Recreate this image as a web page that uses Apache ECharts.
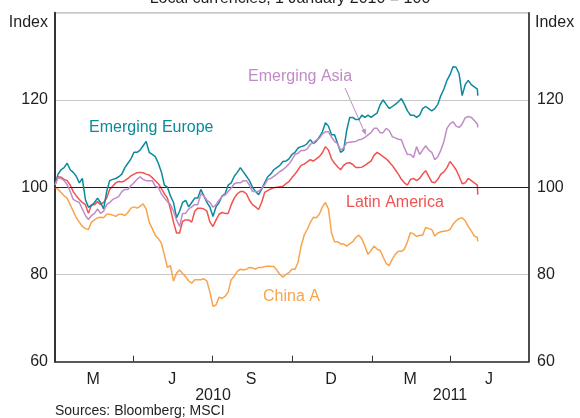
<!DOCTYPE html>
<html><head><meta charset="utf-8">
<script src="https://cdn.jsdelivr.net/npm/echarts@6/dist/echarts.min.js"></script>
<style>html,body{margin:0;padding:0;background:#fff}#c{width:580px;height:418px}</style>
</head><body><div id="c"></div>
<script>
// ---------- data ----------
const chartTitle = 'Local currencies, 1 January 2010 = 100';
const sourceText = 'Sources: Bloomberg; MSCI';
const seriesNames = ['China A', 'Latin America', 'Emerging Europe', 'Emerging Asia'];
// observations twice a week from 1 Jan 2010, last one on 3 May 2011
const firstDate = '2010-01-01';
const stepDays = 3.5;
const lastDate = '2011-05-03';
const chinaA = [
  100,99.5, 98.8,98, 97.5,96, 94.5,93, 92,91, 90.5,90.3, 92,92.5, 93,93.1, 93,93.8, 93.8,93.6,
  93.3,93.8, 93.8,93.5, 94.2,95.2, 95.5,95.2, 95.6,96.2, 95,92, 90.5,89, 88.2,87.2, 84.5,81.6, 82,78.5,
  80.3,81, 80.2,79.5, 78.5,78, 78.8,78.8, 78.8,79, 78.5,75.9, 72.7,73, 74.8,74.5, 75,76, 78.8,79.6,
  80.7,81.2, 81,81.2, 81.6,81.5, 81.2,81.6, 81.6,81.8, 81.9,81.9, 81.8,81, 80,79.4, 80,80.4, 81.2,81.2,
  82.8,86.5, 89,90.3, 91.9,93.1, 93,93.8, 95.5,96.5, 95,89.5, 87.5,87.5, 87,87, 86.5,87, 87.5,88.5,
  89,88.2, 86.5,84.6, 85.5,86.5, 85.8,85.5, 84,82.5, 82,83.5, 84.6,85.3, 85.3,85.8, 87.5,89.6, 89.3,88.7,
  89,89, 90.8,90.5, 90.3,88.8, 89.5,89.8, 89.9,90, 90.3,91.5, 92.3,92.8, 93,92.3, 91,90, 88.8,88.5,
  87.6];
const latinAmerica = [
  100.5,102.4, 102.3,101.8, 101.5,100.5, 99,98, 97.2,96.5, 96,94, 96,96, 96.7,96, 96.5,97.5, 99.5,100.2,
  101,101.3, 101.2,101.5, 102,102.6, 103,103.3, 103.4,103.3, 103,102.8, 102.2,101.5, 100.8,99.7, 98.5,97.5, 95,92,
  89.5,89.5, 92.2,92.5, 92.5,92, 94.5,95.2, 95.2,95, 94.5,92, 91,92.5, 93.8,94.2, 94,94, 96,97.5,
  98.5,99, 99,98.5, 97,96, 95.5,94.9, 96.5,98.8, 99.2,99.6, 99.9,100, 100.1,100.2, 100.8,101.3, 102.2,103,
  104,105, 105.3,105.8, 106.3,106, 106.5,107, 107.9,109.3, 108.5,106.5, 105.5,104.7, 104,105, 105.5,105.6, 105.2,104.5,
  104.5,104.6, 105,105.5, 106,107.3, 108,107.5, 107,106.5, 105.8,105, 104,103, 101.8,101, 100.5,101.8, 102,101.5,
  102,103, 103.8,102.5, 101.2,101, 101.8,103, 103.5,104.5, 105.9,105, 104,102.5, 100.8,101, 102,101.5, 101,100.5,
  98.3];
const emergingEurope = [
  100.5,103, 104,104.5, 105.5,104, 103.4,102.5, 101,102, 97.2,95.4, 95.8,96.5, 97.5,96.5, 95,99, 101.5,101.8,
  102,102.4, 103,104.5, 105.5,106.5, 108,108, 108.5,109.5, 110.5,108, 107.5,107, 105.5,103.5, 100.5,100, 98,96.5,
  93,94.5, 96.5,97, 95.5,96.5, 97.5,97.5, 99.5,98, 96.5,95.4, 93.3,95.5, 96.5,98, 98.5,100.5, 101,102.5,
  103.4,104.5, 103.5,102.5, 101.5,100, 99,98.3, 99.5,101, 102.4,103, 104,104.5, 105,105.9, 106,106.5, 107.5,108,
  109,109.3, 109.5,110, 110.9,110, 110.5,111.5, 112.7,114.8, 114,112, 112,110, 108,108.5, 113,116, 116,115.5,
  115.5,116.5, 116,116.5, 116,116.5, 117,118.9, 120,119, 118,118.5, 119,119.6, 120.3,119, 117.5,116.5, 116.5,116,
  116.5,118, 118.5,118, 117.5,118, 119,121, 122.5,124.5, 125.8,127.6, 127.5,126, 121,123.5, 124.5,123.5, 123,122.5,
  121];
const emergingAsia = [
  100.5,102.2, 102,101.5, 100.6,99, 97.2,96.8, 96.5,95, 93.5,92.6, 93.5,94, 95,94, 94.5,96, 96.5,97.2,
  97.5,97.9, 99,99.5, 99.5,100.4, 101,101.8, 102.4,101.8, 101.5,101.5, 101.5,100.2, 100,98.5, 97.5,96.7, 96,94.5,
  92.5,91, 94,94, 95,95.5, 96,96, 98.5,98, 97,96.5, 95.4,96, 97,97.9, 98.2,99, 99.8,100.8,
  101,101, 101.5,101.5, 100.5,99, 99,99, 99.7,100.5, 101.8,102, 102.5,103, 103.6,104, 104.6,105.3, 106.3,107.5,
  107.8,108.4, 108.4,108.8, 109.8,110.2, 110.8,111.2, 112.2,112.7, 112.7,111.5, 110.5,110, 108.5,109, 110.2,110.3, 110.4,110.5,
  110.9,111, 111.4,112, 112.5,113.5, 113.5,112.5, 112.5,113.5, 113,111.6, 111.3,111, 110.9,109, 107.5,107.5, 106.8,109.3,
  107.5,108.5, 109.5,108.5, 108,106.3, 107,108.5, 110.5,113.5, 114.5,115, 114,113.7, 114.5,115.9, 116.2,116, 115.3,114.5,
  113.7];
const axisStart = '2010-01-01';
const axisEnd = '2011-07-01';
const quarterTickDates = ['2010-04-01', '2010-07-01', '2010-10-01', '2011-01-01', '2011-04-01'];
const monthLabelDates = ['2010-02-14', '2010-05-16', '2010-08-15', '2010-11-15', '2011-02-14', '2011-05-16'];
const monthLabels = ['M', 'J', 'S', 'D', 'M', 'J'];
const yearLabelDates = ['2010-07-02', '2011-04-01'];
const yearLabels = ['2010', '2011'];
const yMin = 60, yMax = 140, yStep = 20;
const referenceLevel = 100;

// ---------- build ----------
const ts = s => new Date(s + 'T00:00:00Z').getTime();
const DAY = 86400000;
function datesFor(n) {
  const out = [];
  for (let i = 0; i < n - 1; i++) out.push(ts(firstDate) + i * stepDays * DAY);
  out.push(ts(lastDate));
  return out;
}
const xDates = datesFor(chinaA.length);
const pairs = vals => vals.map((v, i) => [xDates[i], v]);

const colors = {
  'China A': '#f7a44c',
  'Latin America': '#ef5350',
  'Emerging Europe': '#0b8a9d',
  'Emerging Asia': '#c08bc7'
};
const valuesByName = {
  'China A': chinaA,
  'Latin America': latinAmerica,
  'Emerging Europe': emergingEurope,
  'Emerging Asia': emergingAsia
};
const monthMap = {}; monthLabelDates.forEach((d, i) => monthMap[ts(d)] = monthLabels[i]);
const yearMap = {}; yearLabelDates.forEach((d, i) => yearMap[ts(d)] = yearLabels[i]);

const FONT = '"Liberation Sans", Arial, sans-serif';
const TXT = '#1f1f1f';

const chart = echarts.init(document.getElementById('c'), null, {renderer: 'canvas'});
const series = seriesNames.map((name, k) => {
  const s = {
    name, type: 'line', data: pairs(valuesByName[name]),
    showSymbol: false, symbol: 'none', animation: false,
    lineStyle: {color: colors[name], width: 1.5}, itemStyle: {color: colors[name]},
    z: 3 + k
  };
  if (k === 0) {
    s.markLine = {
      silent: true, symbol: 'none', animation: false,
      label: {show: false},
      lineStyle: {color: '#222', type: 'solid', width: 1.2},
      data: [{yAxis: referenceLevel}]
    };
  }
  return s;
});

chart.setOption({
  animation: false,
  backgroundColor: '#fff',
  grid: {left: 55, right: 51, top: 12.7, bottom: 56.3, show: true, borderColor: '#333', borderWidth: 1, backgroundColor: 'transparent'},
  xAxis: [{
    type: 'value', min: ts(axisStart), max: ts(axisEnd),
    axisLine: {show: true, onZero: false, lineStyle: {color: '#333', width: 1.5}},
    axisTick: {show: true, inside: true, length: 6, customValues: quarterTickDates.map(ts), lineStyle: {color: '#333', width: 1}},
    axisLabel: {show: true, customValues: monthLabelDates.map(ts), formatter: v => monthMap[v] || '', margin: 10,
      color: TXT, fontSize: 16, fontFamily: FONT},
    splitLine: {show: false}
  }, {
    type: 'value', min: ts(axisStart), max: ts(axisEnd), position: 'bottom',
    axisLine: {show: false}, axisTick: {show: false},
    axisLabel: {show: true, customValues: yearLabelDates.map(ts), formatter: v => yearMap[v] || '', margin: 26,
      color: TXT, fontSize: 16, fontFamily: FONT},
    splitLine: {show: false}
  }],
  yAxis: [{
    type: 'value', position: 'left', min: yMin, max: yMax, interval: yStep,
    axisLine: {show: true, lineStyle: {color: '#333', width: 2}},
    axisTick: {show: false},
    axisLabel: {formatter: v => v === yMax ? '' : String(v), margin: 7, color: TXT, fontSize: 16, fontFamily: FONT},
    splitLine: {show: true, lineStyle: {color: '#c8c8c8', width: 1}}
  }, {
    type: 'value', position: 'right', min: yMin, max: yMax, interval: yStep,
    axisLine: {show: true, lineStyle: {color: '#333', width: 1.5}},
    axisTick: {show: false},
    axisLabel: {formatter: v => v === yMax ? '' : String(v), margin: 8, color: TXT, fontSize: 16, fontFamily: FONT},
    splitLine: {show: false}
  }],
  series,
  graphic: [
    {type: 'text', left: 'center', top: -9, style: {text: chartTitle, font: '16px ' + FONT, fill: TXT}},
    {type: 'text', x: 48, y: 23, style: {text: 'Index', font: '16px ' + FONT, fill: TXT, align: 'right', verticalAlign: 'middle'}},
    {type: 'text', x: 535, y: 23, style: {text: 'Index', font: '16px ' + FONT, fill: TXT, align: 'left', verticalAlign: 'middle'}},
    {type: 'text', x: 89, y: 128, style: {text: 'Emerging Europe', font: '16px ' + FONT, fill: colors['Emerging Europe'], verticalAlign: 'middle'}},
    {type: 'text', x: 248, y: 77, style: {text: 'Emerging Asia', font: '16px ' + FONT, fill: colors['Emerging Asia'], verticalAlign: 'middle'}},
    {type: 'text', x: 346, y: 203, style: {text: 'Latin America', font: '16px ' + FONT, fill: colors['Latin America'], verticalAlign: 'middle'}},
    {type: 'text', x: 263, y: 297, style: {text: 'China A', font: '16px ' + FONT, fill: colors['China A'], verticalAlign: 'middle'}},
    {type: 'text', x: 55, y: 411, style: {text: sourceText, font: '14px ' + FONT, fill: TXT, verticalAlign: 'middle'}},
    {type: 'line', shape: {x1: 345, y1: 88, x2: 364, y2: 131}, style: {stroke: colors['Emerging Asia'], lineWidth: 1}},
    {type: 'polygon', shape: {points: [[366, 135], [361.3, 130.5], [365.8, 128.5]]}, style: {fill: colors['Emerging Asia']}}
  ]
});
</script></body></html>
